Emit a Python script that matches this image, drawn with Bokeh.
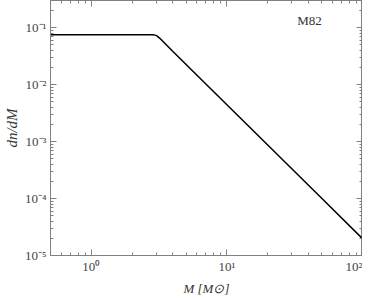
from bokeh.plotting import figure
from bokeh.models import LogAxis, Range1d, Label, FixedTicker
from bokeh.embed import file_html
from bokeh.resources import INLINE

# Data (mass in solar masses, dn/dM)
mass = [0.5, 1.0, 2.0, 2.7, 2.85, 2.95, 3.05, 3.2, 4.0, 5.0, 10.0, 20.0, 50.0, 100.0]
dndm = [0.075, 0.075, 0.075, 0.075, 0.0748, 0.0740, 0.0718, 0.0650, 0.0382, 0.0226,
        0.00443, 0.000869, 0.000101, 0.0000198]

x_ticks = [1, 10, 100]
x_minor = [0.5, 0.6, 0.7, 0.8, 0.9, 2, 3, 4, 5, 6, 7, 8, 9, 20, 30, 40, 50, 60, 70, 80, 90]
x_tick_labels = {1: "10⁰", 10: "10¹", 100: "10²"}
y_ticks = [1e-5, 1e-4, 1e-3, 1e-2, 1e-1]
y_minor = [k * 10.0**e for e in range(-5, 0) for k in range(2, 10)] + [0.2, 0.3]
y_tick_labels = {1e-5: "10⁻⁵", 1e-4: "10⁻⁴", 1e-3: "10⁻³", 1e-2: "10⁻²", 1e-1: "10⁻¹"}
annotation = "M82"

FONT = "Liberation Serif"
AX = "#808080"

p = figure(width=362, height=298, x_axis_type="log", y_axis_type="log",
           x_range=Range1d(0.5, 100), y_range=Range1d(1e-5, 0.3),
           output_backend="svg", toolbar_location=None,
           min_border_left=43, min_border_right=0, min_border_top=0, min_border_bottom=0)
p.background_fill_color = "white"
p.border_fill_color = "white"
p.outline_line_color = AX
p.grid.visible = False

p.line(mass, dndm, line_color="black", line_width=1.5)

def style(ax, ticks, minor, labels):
    ax.ticker = FixedTicker(ticks=ticks, minor_ticks=minor)
    ax.axis_line_color = AX
    ax.major_tick_line_color = AX
    ax.minor_tick_line_color = AX
    ax.major_tick_in = 6
    ax.major_tick_out = 0
    ax.minor_tick_in = 3
    ax.minor_tick_out = 0
    ax.major_label_overrides = labels
    ax.major_label_text_font = FONT
    ax.major_label_text_font_size = "13px"
    ax.major_label_text_color = "#444444"
    ax.axis_label_text_font = FONT
    ax.axis_label_text_font_style = "italic"
    ax.axis_label_text_font_size = "13px"
    ax.axis_label_text_color = "#333333"

xa = p.xaxis[0]
ya = p.yaxis[0]
style(xa, x_ticks, x_minor, x_tick_labels)
style(ya, y_ticks, y_minor, y_tick_labels)
xa.axis_label = "M [M⊙]"
ya.axis_label = "dn/dM"
ya.axis_label_text_font_size = "15px"
xa.major_label_standoff = 3
ya.major_label_standoff = 4
xa.axis_label_standoff = 4
ya.axis_label_standoff = 2

top = LogAxis()
right = LogAxis()
style(top, x_ticks, x_minor, {t: "" for t in x_ticks})
style(right, y_ticks, y_minor, {t: "" for t in y_ticks})
top.major_label_standoff = 0
right.major_label_standoff = 0
p.add_layout(top, "above")
p.add_layout(right, "right")

p.add_layout(Label(x=33, y=0.1, text=annotation, text_font=FONT, text_font_size="13px",
                   text_color="#333333"))

open("out.html", "w").write(file_html(p, INLINE))
